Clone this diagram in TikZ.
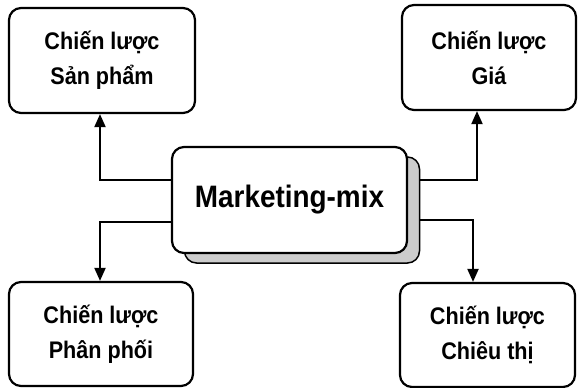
\documentclass[tikz,border=0pt]{standalone}
\usepackage{fontspec}
\setmainfont{Liberation Sans}[FakeStretch=0.9]
\usetikzlibrary{arrows.meta}
\begin{document}
\begin{tikzpicture}[x=1pt,y=-1pt,
  box/.style={draw=black,line width=2.2pt,rounded corners=12pt,fill=white,
    align=center,inner sep=0pt,font=\fontsize{24}{35}\selectfont\bfseries},
  arr/.style={line width=2pt,-{Triangle[length=13pt,width=11pt]}}]
\useasboundingbox (0,0) rectangle (578,388);
% strategy boxes
\node[box,minimum width=186pt,minimum height=105pt] (tl) at (102,60.5) {Chiến lược\\Sản phẩm};
\node[box,minimum width=174pt,minimum height=105pt] (tr) at (489,57.5) {Chiến lược\\Giá};
\node[box,minimum width=184pt,minimum height=104pt] (bl) at (101,334) {Chiến lược\\Phân phối};
\node[box,minimum width=175pt,minimum height=104pt] (br) at (487.5,335) {Chiến lược\\Chiêu thị};
% central box with its shadow
\node[draw=black,line width=1.5pt,rounded corners=12pt,fill=gray!40,
  minimum width=235pt,minimum height=106pt] (sh) at (302,210) {};
\node[box,minimum width=235pt,minimum height=106pt,
  font=\fontsize{31}{35}\selectfont\bfseries] (mm) at (289.5,200) {Marketing-mix};
% connectors
\draw[arr] ([yshift=20pt]mm.west) -| ([xshift=-2pt]tl.south);
\draw[arr] ([yshift=-22pt]mm.west) -| ([xshift=-1pt]bl.north);
\draw[arr] ([yshift=30pt]sh.east) -| ([xshift=-12pt]tr.south);
\draw[arr] ([yshift=-10pt]sh.east) -| ([xshift=-14.5pt]br.north);
\end{tikzpicture}
\end{document}
